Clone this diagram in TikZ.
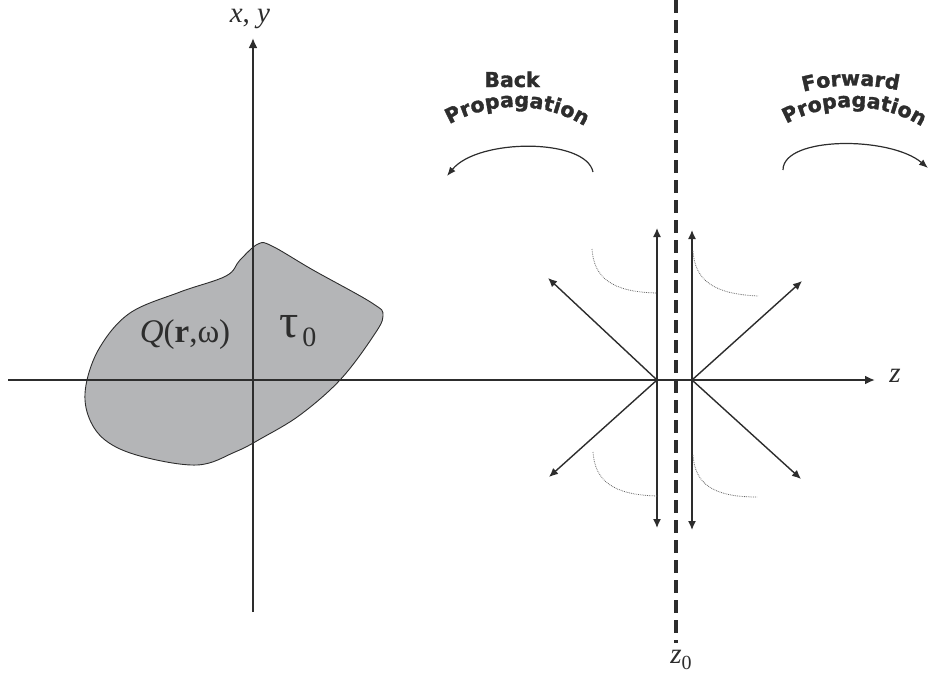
\documentclass[tikz,border=0pt]{standalone}
\usepackage{fontspec}
\setmainfont{Liberation Serif}
\newfontfamily\propfamily{DejaVu Sans}[BoldFeatures={FakeBold=1.6}]
\newcommand\propfont{\propfamily\bfseries\fontsize{20.5}{24}\selectfont}
\usetikzlibrary{arrows.meta,decorations.text}
\definecolor{ink}{RGB}{45,45,45}
\definecolor{blobgray}{RGB}{180,181,183}

\begin{document}
\begin{tikzpicture}[x=1pt, y=-1pt,
    axis/.style={draw=ink, line width=2.2pt, -{Latex[length=10pt,width=9pt]}},
    arrow/.style={draw=ink, line width=1.4pt, -{Latex[length=9pt,width=8pt]}},
    twoway/.style={draw=ink, line width=1.4pt, {Latex[length=9pt,width=8pt]}-{Latex[length=9pt,width=8pt]}},
    sweep/.style={draw=ink, line width=1.2pt, -{Latex[length=9pt,width=7pt]}},
    plane/.style={draw=ink, line width=3.5pt, dash pattern=on 13pt off 7pt},
    fade/.style={draw=black!60, line width=0.8pt, densely dotted},
    blob/.style={draw=ink, line width=0.9pt, fill=blobgray},
    lbl/.style={font=\fontsize{29}{34}\selectfont, text=ink, inner sep=0pt},
    prop/.style={font=\propfont, text=ink, inner sep=0pt}
  ]
    \useasboundingbox (0,0) rectangle (932,678);

    % source region
    \path[blob] plot[smooth cycle, tension=0.6] coordinates {
      (258,244) (240,260) (226,276) (180,292) (130,313) (100,347) (86,385)
      (88,415) (105,440) (140,456) (197,465) (235,452) (262,438) (300,415)
      (340,380) (372,338) (383,316) (372,303) (313,270) (272,246)};
    \node[lbl, font=\fontsize{33}{38}\selectfont] (q) at (185,335) {\textit{Q}(\textbf{r},ω)};
    \node[lbl, anchor=west] (tau) at (279,331) {\fontsize{48}{50}\selectfont τ\hspace{4pt}\raisebox{-9pt}{\fontsize{28}{30}\selectfont 0}};

    % axes
    \coordinate (ybot) at (253,612);
    \coordinate (ytop) at (253,38);
    \coordinate (zleft) at (8,380);
    \coordinate (zright) at (875,380);
    \draw[axis] (ybot) -- (ytop);
    \draw[axis] (zleft) -- (zright);
    \node[lbl] (xy) at (250,19) {\textit{x}, \textit{y}};
    \node[lbl] (z) at (895,376) {\textit{z}};

    % measurement plane
    \coordinate (ptop) at (676,0);
    \coordinate (pbot) at (676,643);
    \draw[plane] (ptop) -- (pbot);
    \node[lbl] (z0) at (681,660) {\textit{z}\raisebox{-6pt}{\fontsize{20}{24}\selectfont 0}};

    % fields on both sides
    \coordinate (srcL) at (657,380);
    \coordinate (srcR) at (692,380);
    \coordinate (upL) at (657,228);
    \coordinate (dnL) at (657,528);
    \coordinate (upR) at (692,230);
    \coordinate (dnR) at (692,530);
    \draw[twoway] (dnL) -- (upL);
    \draw[twoway] (dnR) -- (upR);
    \coordinate (nwL) at (548,278);
    \coordinate (swL) at (549,477);
    \coordinate (neR) at (802,281);
    \coordinate (seR) at (801,479);
    \draw[arrow] (srcL) -- (nwL);
    \draw[arrow] (srcL) -- (swL);
    \draw[arrow] (srcR) -- (neR);
    \draw[arrow] (srcR) -- (seR);

    % dotted decay curves
    \draw[fade] (592,249) .. controls (594,278) and (612,292) .. (657,293);
    \draw[fade] (693,251) .. controls (695,280) and (713,294) .. (758,296);
    \draw[fade] (593,452) .. controls (595,481) and (613,495) .. (658,496);
    \draw[fade] (693,455) .. controls (695,484) and (713,497) .. (757,497);

    % propagation directions
    \coordinate (backA) at (593,172);
    \coordinate (backB) at (447,176);
    \coordinate (fwdA) at (783,170);
    \coordinate (fwdB) at (928,168);
    \draw[sweep] (backA) .. controls (586,138) and (478,138) .. (backB);
    \draw[sweep] (fwdA) .. controls (783,136) and (890,136) .. (fwdB);

    \node[prop, anchor=base] (back) at (512,87) {Back};
    \path[decorate, decoration={text along path, text align=center,
        text={|\propfont\color{ink}|Forward}}]
      (796,94) .. controls (830,83) and (870,83) .. (906,92);
    \path[decorate, decoration={text along path, text align=center,
        text={|\propfont\color{ink}|Propagation}}]
      (445,127) .. controls (488,100) and (546,100) .. (589,129);
    \path[decorate, decoration={text along path, text align=center,
        text={|\propfont\color{ink}|Propagation}}]
      (781,127) .. controls (824,100) and (884,100) .. (927,130);
  \end{tikzpicture}
\end{document}
